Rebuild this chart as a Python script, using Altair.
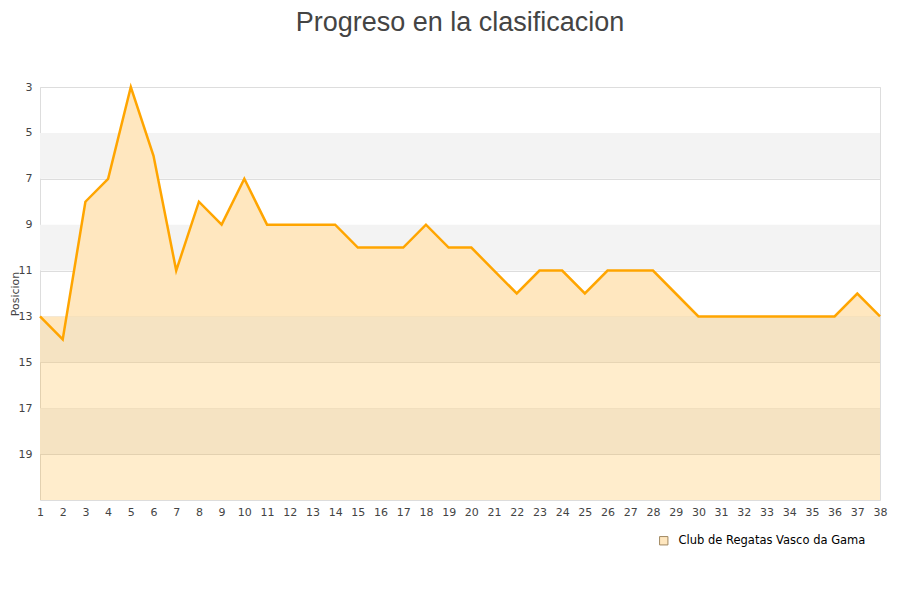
import altair as alt
import pandas as pd

jornadas = list(range(1, 39))
posiciones = [13, 14, 8, 7, 3, 6, 11, 8, 9, 7, 9, 9, 9, 9, 10, 10, 10, 9, 10, 10,
              11, 12, 11, 11, 12, 11, 11, 11, 12, 13, 13, 13, 13, 13, 13, 13, 12, 13]
equipo = "Club de Regatas Vasco da Gama"
band_start = [5, 9, 13, 17]
band_end = [7, 11, 15, 19]
y_ticks = [3, 5, 7, 9, 11, 13, 15, 17, 19]

df = pd.DataFrame({"jornada": jornadas, "posicion": posiciones, "equipo": equipo})
bands = pd.DataFrame({"y1": band_start, "y2": band_end})

x_scale = alt.Scale(domain=[1, 38], nice=False, zero=False)
y_scale = alt.Scale(domain=[3, 21], reverse=True, nice=False, zero=False)

x_axis = alt.Axis(values=jornadas, ticks=False, grid=False, domain=False,
                  labelFlush=False, labelOverlap=False, labelPadding=6)
y_axis = alt.Axis(values=y_ticks, ticks=False, domain=False, gridColor="#dddddd",
                  labelPadding=8, titleFontSize=11, titleX=-22,
                  titleBaseline="alphabetic")

band_layer = alt.Chart(bands).mark_rect(color="#f3f3f3").encode(
    y=alt.Y("y1:Q", scale=y_scale, title="Posicion", axis=y_axis),
    y2="y2:Q",
)

area = alt.Chart(df).mark_area(color="#FFA500", opacity=0.2).encode(
    x=alt.X("jornada:Q", scale=x_scale, title=None, axis=x_axis),
    y=alt.Y("posicion:Q", scale=y_scale, title="Posicion", axis=y_axis),
    y2=alt.datum(21),
)

line = alt.Chart(df).mark_line(color="#FFA500", strokeWidth=2.5).encode(
    x=alt.X("jornada:Q", scale=x_scale, title=None, axis=x_axis),
    y=alt.Y("posicion:Q", scale=y_scale, title="Posicion", axis=y_axis),
    fill=alt.Fill(
        "equipo:N",
        scale=alt.Scale(range=["#FFE7BF"]),
        legend=alt.Legend(title=None, orient="none", legendX=618, legendY=448,
                          symbolType="square", symbolSize=70, symbolStrokeColor="#a08860",
                          symbolStrokeWidth=1, labelFontSize=11.5, labelColor="#000000",
                          labelLimit=0, labelOffset=9),
    ),
)

chart = (
    alt.layer(band_layer, area, line)
    .properties(
        width=840,
        height=413,
        autosize=alt.AutoSizeParams(type="none"),
        padding={"left": 32, "top": 79, "right": 12, "bottom": 100},
        title=alt.Title("Progreso en la clasificacion", fontSize=27, font="Liberation Sans",
                        fontWeight="normal", color="#444444", offset=44),
    )
    .configure_view(stroke="#dddddd")
    .configure_axis(labelFont="DejaVu Sans", labelFontSize=11, labelColor="#444444",
                    titleFont="DejaVu Sans", titleFontWeight="normal",
                    titleColor="#444444")
    .configure_axisX(labelOverlap=False)
    .configure_legend(labelFont="DejaVu Sans")
)

chart.save("out.html", embed_options={"renderer": "svg", "actions": False})
